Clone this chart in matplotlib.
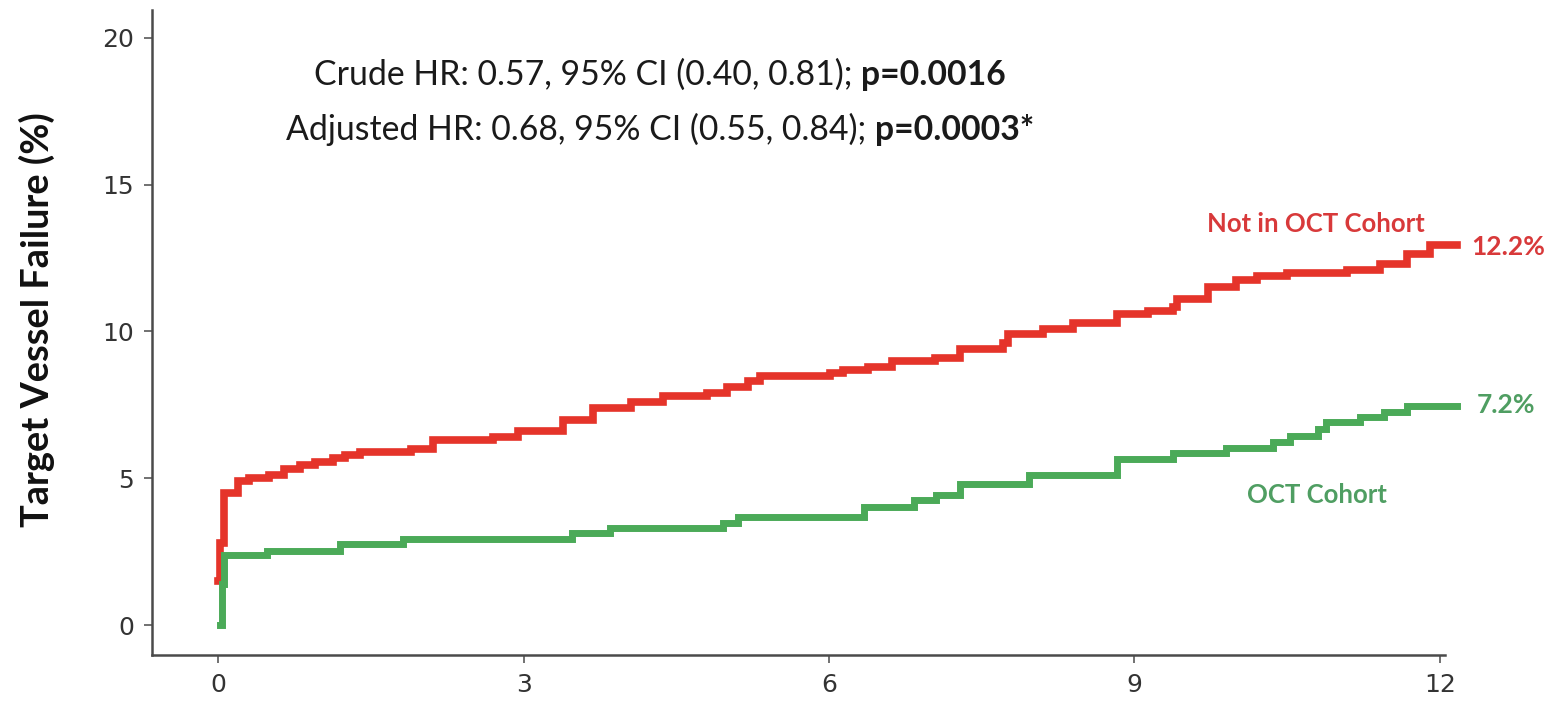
import matplotlib
matplotlib.use("Agg")
import matplotlib.pyplot as plt
import numpy as np

# 读取曲线上的台阶点 (months, %)
red_t = [0.00, 0.02, 0.06, 0.19, 0.30, 0.50, 0.65, 0.80, 0.95, 1.13, 1.25, 1.39, 1.89, 2.11,
         2.70, 2.94, 3.39, 3.68, 4.05, 4.37, 4.80, 5.00, 5.20, 5.32, 6.01, 6.14, 6.38,
         6.62, 7.04, 7.29, 7.71, 7.76, 8.10, 8.40, 8.83, 9.13, 9.38, 9.42, 9.72, 10.00,
         10.20, 10.50, 11.09, 11.41, 11.68, 11.90, 12.17]
red_v = [1.5, 2.8, 4.5, 4.9, 5.0, 5.1, 5.3, 5.45, 5.55, 5.7, 5.8, 5.9, 6.0, 6.3,
         6.4, 6.6, 7.0, 7.4, 7.6, 7.8, 7.9, 8.1, 8.3, 8.5, 8.6, 8.7, 8.8,
         9.0, 9.1, 9.4, 9.6, 9.9, 10.1, 10.3, 10.6, 10.7, 10.85, 11.1, 11.5, 11.75,
         11.9, 12.0, 12.1, 12.3, 12.65, 12.95, 12.95]

green_t = [0.02, 0.04, 0.06, 0.48, 1.20, 1.82, 3.48, 3.85, 4.96, 5.11, 6.34, 6.83, 7.05,
           7.29, 7.96, 8.83, 9.38, 9.90, 10.36, 10.53, 10.80, 10.88, 11.22, 11.45, 11.68, 12.17]
green_v = [0.0, 1.4, 2.38, 2.52, 2.76, 2.93, 3.13, 3.3, 3.48, 3.68, 4.02, 4.26, 4.43,
           4.8, 5.11, 5.66, 5.86, 6.03, 6.24, 6.44, 6.68, 6.92, 7.09, 7.26, 7.46, 7.46]

x_ticks = [0, 3, 6, 9, 12]
y_ticks = [0, 5, 10, 15, 20]

line1 = [("Crude HR: 0.57, 95% CI (0.40, 0.81);", "normal"), ("p=0.0016", "bold")]
line2 = [("Adjusted HR: 0.68, 95% CI (0.55, 0.84);", "normal"), ("p=0.0003*", "bold")]

red = "#E5342A"
green = "#4BAA58"
red_txt = "#D8393A"
green_txt = "#4F9E62"
axis_col = "#4a4a4a"

fig = plt.figure(figsize=(15.62, 7.02), dpi=100)
ax = fig.add_axes([152 / 1562, 1 - 655 / 702, (1445 - 152) / 1562, (655 - 10) / 702])

ax.step(red_t, red_v, where="post", color=red, linewidth=5.5, clip_on=False,
        solid_joinstyle="miter")
ax.step(green_t, green_v, where="post", color=green, linewidth=5.0, clip_on=False,
        solid_joinstyle="miter")

ax.set_xlim(-0.65, 12.05)
ax.set_ylim(-1.02, 20.95)
ax.set_xticks(x_ticks)
ax.set_yticks(y_ticks)
ax.tick_params(colors="#666666", labelcolor="#333333", labelsize=18, length=6, width=1.3, pad=7)
for s in ["top", "right"]:
    ax.spines[s].set_visible(False)
for s in ["left", "bottom"]:
    ax.spines[s].set_color(axis_col)
    ax.spines[s].set_linewidth(1.8)

renderer = fig.canvas.get_renderer()


def fit_size(parts, target_px, weight_font="Lato"):
    # 按目标像素宽度估算字号
    tot = 0
    for s, w in parts:
        t = fig.text(0, 0, s, fontsize=20, fontweight=w, family=weight_font)
        tot += t.get_window_extent(renderer).width
        t.remove()
    tot += 20 * 0.25 * 100 / 72 * (len(parts) - 1)
    return 20 * target_px / tot


def centered_line(xc, yc, parts, size):
    gap = size * 0.25 * 100 / 72
    arts = [ax.text(0, yc, s, fontsize=size, fontweight=w, family="Lato",
                    ha="left", va="center", color="#1a1a1a") for s, w in parts]
    widths = [a.get_window_extent(renderer).width for a in arts]
    x0 = ax.transData.transform((xc, yc))[0] - (sum(widths) + gap * (len(parts) - 1)) / 2
    for a, w in zip(arts, widths):
        a.set_x(ax.transData.inverted().transform((x0, 0))[0])
        x0 += w + gap


fs = fit_size(line2, 750)
centered_line(4.34, 18.74, line1, fs)
centered_line(4.34, 16.87, line2, fs)

# 曲线标注
ax.text(10.78, 13.66, "Not in OCT Cohort", color=red_txt, fontsize=18.5, fontweight="bold",
        family="Lato", ha="center", va="center", clip_on=False)
ax.text(12.31, 12.88, "12.2%", color=red_txt, fontsize=19, fontweight="bold",
        family="Lato", ha="left", va="center", clip_on=False)
ax.text(12.36, 7.5, "7.2%", color=green_txt, fontsize=19, fontweight="bold",
        family="Lato", ha="left", va="center", clip_on=False)
ax.text(10.79, 4.43, "OCT Cohort", color=green_txt, fontsize=18.5, fontweight="bold",
        family="Lato", ha="center", va="center", clip_on=False)

ylab = "Target Vessel Failure (%)"
yfs = fit_size([(ylab, "bold")], 415)
fig.text(37 / 1562, 1 - 320 / 702, ylab, rotation=90, fontsize=yfs, fontweight="bold",
         family="Lato", ha="center", va="center", color="#111111")

fig.savefig("out.png", dpi=100)
